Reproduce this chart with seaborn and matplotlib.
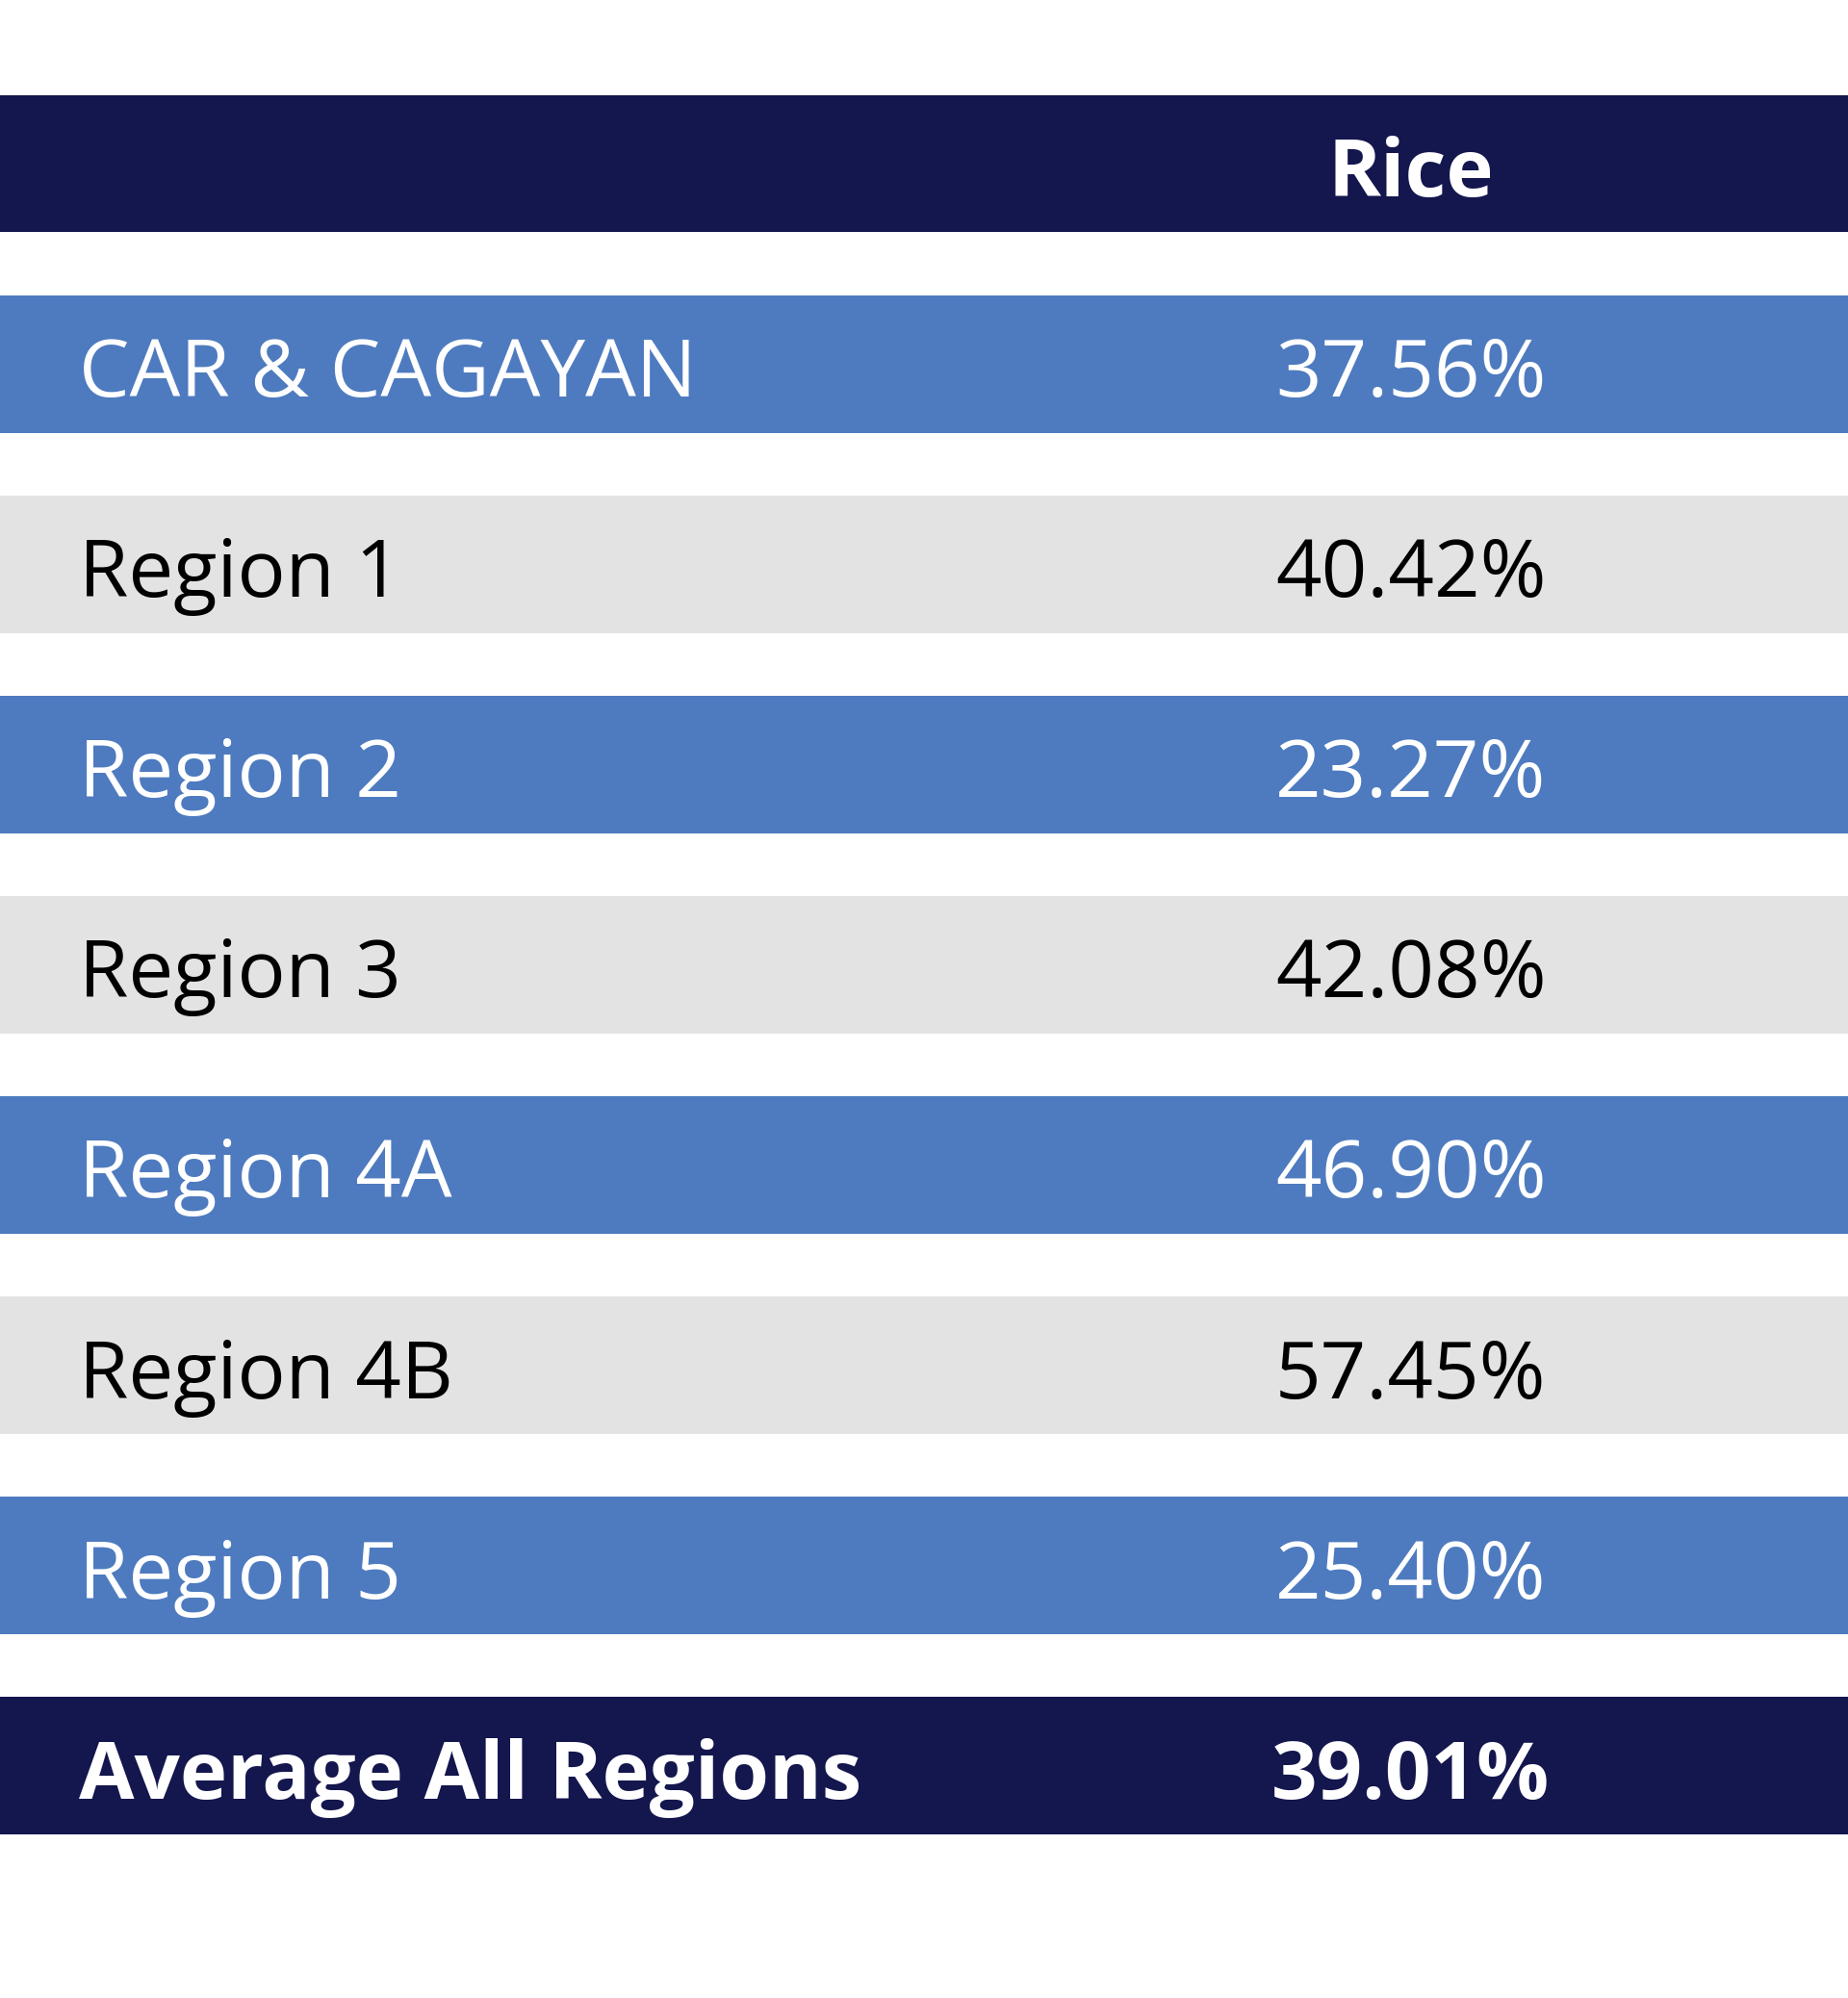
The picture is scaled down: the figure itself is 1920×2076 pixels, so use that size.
import matplotlib
matplotlib.use('Agg')
import matplotlib.pyplot as plt
import seaborn as sns
import pandas as pd

# ── Data ──────────────────────────────────────────────────────────────────────
header    = 'Rice'
regions   = ['CAR & CAGAYAN', 'Region 1', 'Region 2', 'Region 3',
             'Region 4A', 'Region 4B', 'Region 5']
rice_pct  = [37.56, 40.42, 23.27, 42.08, 46.90, 57.45, 25.40]
avg_label = 'Average All Regions'
avg_pct   = 39.01

# ── Style ─────────────────────────────────────────────────────────────────────
NAVY  = '#14164e'
BLUE  = '#4e7bbf'
GRAY  = '#e3e3e3'

sns.set_theme(style='white')
plt.rcParams['font.family'] = ['Open Sans', 'DejaVu Sans']

rows = [''] + regions + [avg_label]
df = pd.DataFrame({'row': [f'r{i}' for i in range(len(rows))],
                   'span': [1.0] * len(rows)})
fills = [NAVY] + [BLUE if i % 2 == 0 else GRAY for i in range(len(regions))] + [NAVY]
palette = dict(zip(df['row'], fills))

fig = plt.figure(figsize=(19.2, 20.76), dpi=100)
ax = fig.add_axes([0, 0, 1, 1])
sns.barplot(data=df, x='span', y='row', hue='row', palette=palette,
            orient='h', width=0.687, saturation=1, legend=False,
            linewidth=0, ax=ax)
ax.set_xlim(0, 1)
ax.set_ylim(9.159, -0.817)
ax.axis('off')

FS = 60
LABEL_X = 0.0427
VALUE_X = 0.7635
BASE = 0.163   # baseline offset so caps sit centred in the band

ax.text(VALUE_X, 0 + BASE, header, color='white', fontsize=FS,
        fontweight='bold', ha='center', va='baseline')

for i, (name, val) in enumerate(zip(regions, rice_pct), start=1):
    tc = 'white' if fills[i] == BLUE else 'black'
    ax.text(LABEL_X, i + BASE, name, color=tc, fontsize=FS,
            ha='left', va='baseline')
    ax.text(VALUE_X, i + BASE, f'{val:.2f}%', color=tc, fontsize=FS,
            ha='center', va='baseline')

n = len(rows) - 1
ax.text(LABEL_X, n + BASE, avg_label, color='white', fontsize=FS,
        fontweight='bold', ha='left', va='baseline')
ax.text(VALUE_X, n + BASE, f'{avg_pct:.2f}%', color='white', fontsize=FS,
        fontweight='bold', ha='center', va='baseline')

fig.savefig('out.png', dpi=100, facecolor='white')
plt.close(fig)
